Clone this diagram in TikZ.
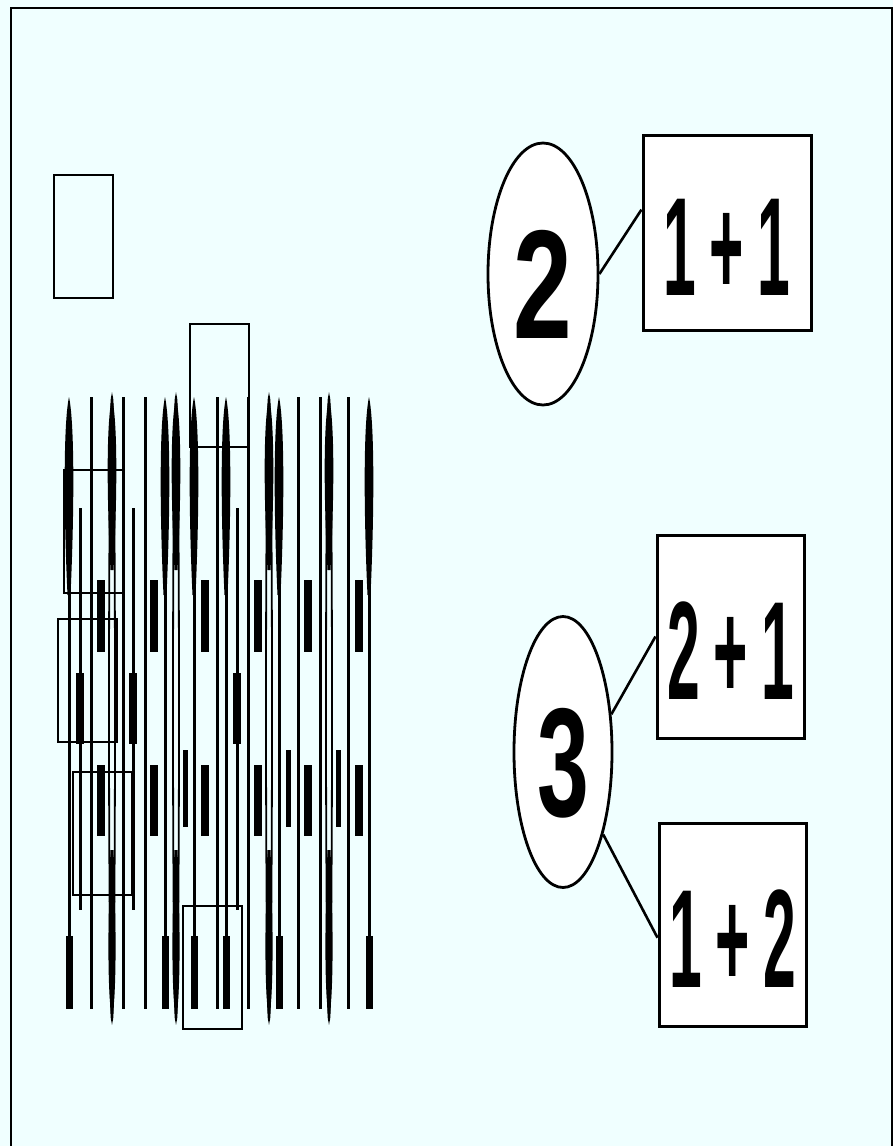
\documentclass[tikz,border=0pt]{standalone}
\usepackage{fontspec}
\setmainfont{Liberation Sans}
\usepackage{graphicx}
\usepackage{xcolor}
\definecolor{paper}{RGB}{240,255,255}
\usetikzlibrary{shapes.geometric,positioning,calc}

\newcommand{\bignum}[3]{\scalebox{#2}[1]{\fontsize{#1}{#1}\selectfont\bfseries #3}}
\newcommand{\gap}{\kern32pt}

\begin{document}
\begin{tikzpicture}[x=1pt, y=-1pt,
  numoval/.style={draw, ellipse, fill=white, line width=2.8pt, inner sep=0pt, text height=128pt, text depth=0pt},
  sumbox/.style={draw, rectangle, fill=white, line width=3pt, inner sep=0pt, text height=125pt, text depth=0pt},
  link/.style={line width=2.6pt},
  stem/.style={line width=3pt},
  ghostbox/.style={draw, line width=1.8pt},
  spindle/.style={line width=1.8pt}
]
\useasboundingbox (0,0) rectangle (893,1146);
\fill[paper] (0,0) rectangle (893,1146);
\draw[line width=1.8pt] (11,1146) -- (11,8) -- (892,8) -- (892,1146);

% left block of collapsed stems
\foreach \x in {91,123,145,217,248,298,320,348}
  \draw[stem] (\x,397) -- (\x,1009);
\foreach \x in {80,133,237} {
  \draw[stem] (\x,508) -- (\x,910);
  \fill (\x-4,673) rectangle (\x+4,744);
}
\foreach \x in {101,154,205,258,308,359} {
  \fill (\x-4,580) rectangle (\x+4,652);
  \fill (\x-4,765) rectangle (\x+4,836);
}
\foreach \x in {185,288,338}
  \fill (\x-2.5,750) rectangle (\x+2.5,827);
\foreach \x in {69,165,194,226,279,369} {
  \fill (\x,397) .. controls (\x+6,425) and (\x+5,520) .. (\x+1.5,595) -- (\x-1.5,595) .. controls (\x-5,520) and (\x-6,425) .. (\x,397);
  \draw[stem] (\x,585) -- (\x,940);
  \fill (\x-3.5,936) rectangle (\x+3.5,1009);
}
\foreach \x in {112,176,269,329} {
  \draw[spindle] (\x,708.5) ellipse (3 and 311.5);
  \fill (\x,397) .. controls (\x+6,425) and (\x+5,500) .. (\x+1.5,570) -- (\x-1.5,570) .. controls (\x-5,500) and (\x-6,425) .. (\x,397);
  \fill (\x,1020) .. controls (\x+5,990) and (\x+4,920) .. (\x+1.5,850) -- (\x-1.5,850) .. controls (\x-4,920) and (\x-5,990) .. (\x,1020);
}
\foreach \x/\y in {54/175, 190/324, 64/470, 58/619, 73/772, 183/906}
  \draw[ghostbox] (\x,\y) rectangle ++(59,123);

% right: sums
\node[numoval, minimum width=110pt, minimum height=262pt] (two) at (543,274) {\bignum{155}{0.68}{2}};
\node[sumbox, minimum width=168pt, minimum height=195pt] (oneone) at (727,232.5) {\bignum{140}{0.42}{1\gap+\gap1}};

\node[numoval, minimum width=98pt, minimum height=271pt] (three) at (563,752) {\bignum{155}{0.6}{3}};
\node[sumbox, minimum width=147pt, minimum height=203pt] (twoone) at (730.5,636.5) {\bignum{140}{0.42}{2\gap+\gap1}};
\node[sumbox, minimum width=147pt, minimum height=203pt] (onetwo) at (732.5,924.5) {\bignum{140}{0.42}{1\gap+\gap2}};

\draw[link] (two.east) -- (oneone.165);
\draw[link] (three.38) -- (twoone.west);
\draw[link] (three.-64) -- (onetwo.190);
\end{tikzpicture}
\end{document}
